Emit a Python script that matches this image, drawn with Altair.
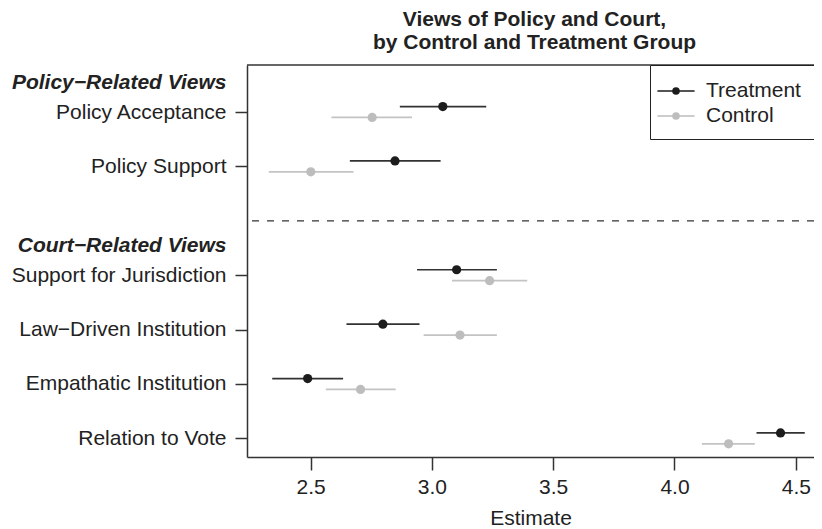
import altair as alt
import pandas as pd

measures = ["Policy Acceptance", "Policy Support", "Support for Jurisdiction",
            "Law\u2212Driven Institution", "Empathatic Institution", "Relation to Vote"]
rows = [1, 2, 4, 5, 6, 7]
headers = ["Policy\u2212Related Views", "Court\u2212Related Views"]
header_rows = [0.45, 3.45]

treat_est = [3.045, 2.848, 3.102, 2.798, 2.488, 4.437]
treat_lo = [2.868, 2.662, 2.939, 2.648, 2.342, 4.338]
treat_hi = [3.224, 3.036, 3.268, 2.949, 2.634, 4.537]
ctrl_est = [2.754, 2.501, 3.238, 3.116, 2.706, 4.223]
ctrl_lo = [2.586, 2.328, 3.083, 2.966, 2.563, 4.113]
ctrl_hi = [2.918, 2.677, 3.393, 3.268, 2.851, 4.331]

groups = ["Treatment", "Control"]
colors = ["#1c1c1c", "#bdbdbd"]
x_ticks = [2.5, 3.0, 3.5, 4.0, 4.5]

recs = []
for i, m in enumerate(measures):
    recs.append(dict(measure=m, row=rows[i], group="Treatment", series="Treatment",
                     est=treat_est[i], lo=treat_lo[i], hi=treat_hi[i]))
    recs.append(dict(measure=m, row=rows[i], group="Control", series="Control",
                     est=ctrl_est[i], lo=ctrl_lo[i], hi=ctrl_hi[i]))
df = pd.DataFrame(recs)

W, H = 567, 392
FONT = "Liberation Sans"
INK = "#222222"
AX = "#333333"

all_vals = header_rows + rows
all_labels = headers + measures
expr = "''"
for v, lab in zip(all_vals, all_labels):
    expr = f"datum.value == {v} ? '{lab}' : ({expr})"
is_header = "datum.value % 1 != 0"

xscale = alt.Scale(domain=[2.238, 4.575], nice=False, zero=False)
yscale = alt.Scale(domain=[0.136, 7.342], reverse=True, nice=False, zero=False)
col = alt.Scale(domain=groups, range=colors)

base = alt.Chart(df).transform_calculate(
    pos="datum.row + (datum.group == 'Treatment' ? -0.1 : 0.1)"
)

yaxis = alt.Axis(
    values=all_vals, labelExpr=expr, title=None, grid=False,
    tickSize=12, labelPadding=9, labelFontSize=21, labelFont=FONT,
    labelColor=INK, labelLimit=400,
    labelFontWeight={"condition": {"test": is_header, "value": "bold"}, "value": "normal"},
    labelFontStyle={"condition": {"test": is_header, "value": "italic"}, "value": "normal"},
    tickOpacity={"condition": {"test": is_header, "value": 0}, "value": 1},
    domainColor=AX, tickColor=AX, domainWidth=1.5, tickWidth=1.5,
)
xaxis = alt.Axis(
    values=x_ticks, format=".1f", title="Estimate", grid=False,
    tickSize=13, labelPadding=6, labelFontSize=21, labelFont=FONT, labelColor=INK,
    titleFontSize=21, titleFont=FONT, titleFontWeight="normal", titleColor=INK,
    titlePadding=10, domainColor=AX, tickColor=AX, domainWidth=1.5, tickWidth=1.5,
    labelFlush=False,
)

# legend symbol: a short line with a dot (concentric rings fill the dot)
sym = ("M-1.55,0L1.55,0"
       "M0.25,0A0.25,0.25,0,1,1,-0.25,0A0.25,0.25,0,1,1,0.25,0"
       "M0.14,0A0.14,0.14,0,1,1,-0.14,0A0.14,0.14,0,1,1,0.14,0"
       "M0.05,0A0.05,0.05,0,1,1,-0.05,0A0.05,0.05,0,1,1,0.05,0")
leg = alt.Legend(
    title=None, orient="top-right", offset=0,
    symbolType=sym, symbolSize=576, symbolStrokeWidth=1.6,
    labelFontSize=21, labelFont=FONT, labelColor=INK, labelOffset=17,
    padding=13, rowPadding=2, strokeColor="#222222", fillColor="white",
)

rules = base.mark_rule(strokeWidth=1.7, strokeOpacity=0.9).encode(
    x=alt.X("lo:Q", scale=xscale, axis=xaxis),
    x2="hi:Q",
    y=alt.Y("pos:Q", scale=yscale, axis=yaxis),
    color=alt.Color("group:N", scale=col, legend=leg),
)

points = base.mark_point(filled=True, size=85, opacity=1).encode(
    x=alt.X("est:Q", scale=xscale),
    y=alt.Y("pos:Q", scale=yscale),
    fill=alt.Fill("series:N", scale=col, legend=None),
)

sep = alt.Chart(pd.DataFrame({"r": [3]})).mark_rule(
    strokeDash=[7, 8], color=AX, strokeWidth=1.3
).encode(y=alt.Y("r:Q", scale=yscale))

topline = alt.Chart(pd.DataFrame({"r": [0]})).mark_rule(
    color=AX, strokeWidth=1.5
).encode(x=alt.value(0), x2=alt.value(W + 10), y=alt.value(0))

chart = alt.layer(sep, topline, rules, points).properties(
    width=W, height=H,
    title=alt.Title(
        ["Views of Policy and Court,", "by Control and Treatment Group"],
        fontSize=21, font=FONT, fontWeight="bold", color=INK, lineHeight=23,
        anchor="middle", frame="group", dx=4, offset=11,
    ),
    autosize=alt.AutoSizeParams(type="none"),
    padding={"left": 239, "top": 57, "right": 0, "bottom": 72},
).configure_view(stroke=None)

chart.save("out.html", embed_options={"renderer": "svg", "actions": False})
